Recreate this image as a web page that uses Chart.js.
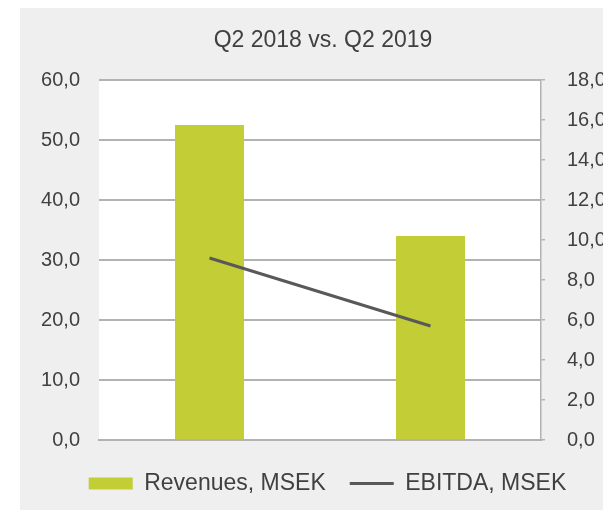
<!DOCTYPE html>
<html><head><meta charset="utf-8">
<script src="https://cdn.jsdelivr.net/npm/chart.js@4/dist/chart.umd.min.js"></script>
<style>
html,body{margin:0;padding:0;background:#fff;overflow:hidden;width:603px;height:510px}
#panel{position:absolute;left:20px;top:8px;right:0;bottom:0;background:#efefef}
#c{position:absolute;left:0;top:0}
</style></head><body>
<div id="panel"></div>
<canvas id="c" width="615" height="510"></canvas>
<script>
// ---- data ----
const categories = ['Q2 2018', 'Q2 2019'];
const revenues = [52.5, 34.0];      // MSEK, left axis
const ebitda = [9.1, 5.7];          // MSEK, right axis
const leftAxis = { min: 0, max: 60, step: 10 };
const rightAxis = { min: 0, max: 18, step: 2 };
const titleText = 'Q2 2018 vs. Q2 2019';
const seriesNames = ['Revenues, MSEK', 'EBITDA, MSEK'];

const FONT = "'Liberation Sans', Arial, sans-serif";
const TEXT = '#404040';
const GRID = '#b2b2b2';
const fmt = v => Number(v).toFixed(1).replace('.', ',');

const areaBg = {
  id: 'areaBg',
  afterLayout(chart) {
    if (chart.legend) { chart.legend.left += 20; chart.legend.right += 20; }
    if (chart.titleBlock) { chart.titleBlock.left += 3; chart.titleBlock.right += 3; }
  },
  beforeDraw(chart) {
    const a = chart.chartArea, ctx = chart.ctx;
    ctx.save(); ctx.fillStyle = '#ffffff';
    ctx.fillRect(a.left, a.top, a.right - a.left, a.bottom - a.top);
    ctx.restore();
  }
};

new Chart(document.getElementById('c'), {
  data: {
    labels: categories,
    datasets: [
      { type: 'bar', label: seriesNames[0], data: revenues, yAxisID: 'y',
        backgroundColor: '#c3cd35', borderWidth: 0, order: 1,
        barPercentage: 0.312, categoryPercentage: 1 },
      { type: 'line', label: seriesNames[1], data: ebitda, yAxisID: 'y1',
        borderColor: '#595959', backgroundColor: '#595959', borderWidth: 3,
        pointRadius: 0, tension: 0, order: 0 }
    ]
  },
  options: {
    responsive: false, animation: false,
    layout: { padding: { left: 0, right: 0, top: 0, bottom: 5 } },
    plugins: {
      tooltip: { enabled: false },
      title: { display: true, text: titleText, fullSize: false, color: TEXT,
        font: { family: FONT, size: 23, weight: 'normal' },
        padding: { top: 26.4, bottom: 26 } },
      legend: {
        position: 'bottom', fullSize: true,
        labels: {
          color: TEXT, font: { family: FONT, size: 23 },
          usePointStyle: true, pointStyleWidth: 44, boxWidth: 44, boxHeight: 12, padding: 24,
          sort: (a, b) => a.datasetIndex - b.datasetIndex,
          generateLabels(chart) {
            const items = Chart.defaults.plugins.legend.labels.generateLabels(chart);
            items.forEach(it => {
              if (it.datasetIndex === 0) { it.pointStyle = 'rect'; it.lineWidth = 0; it.fillStyle = '#c3cd35'; it.strokeStyle = '#c3cd35'; }
              else { it.pointStyle = 'line'; it.lineWidth = 3; it.strokeStyle = '#595959'; it.fillStyle = '#595959'; }
              it.fontColor = TEXT;
            });
            return items;
          }
        }
      }
    },
    scales: {
      x: { type: 'category', offset: true,
        ticks: { display: false },
        grid: { display: false, drawTicks: false },
        border: { display: true, color: GRID, width: 2 },
        afterFit(s) { s.height = 8; } },
      y: { type: 'linear', position: 'left', min: leftAxis.min, max: leftAxis.max,
        ticks: { stepSize: leftAxis.step, color: TEXT, padding: 19,
          font: { family: FONT, size: 20 }, callback: v => fmt(v) },
        grid: { color: GRID, lineWidth: 2, drawTicks: false },
        border: { display: false },
        afterFit(s) { s.width = 99; } },
      y1: { type: 'linear', position: 'right', min: rightAxis.min, max: rightAxis.max,
        ticks: { stepSize: rightAxis.step, color: TEXT, padding: 22,
          font: { family: FONT, size: 20 }, callback: v => fmt(v) },
        grid: { drawOnChartArea: false, drawTicks: true, tickLength: 4, color: GRID, lineWidth: 1.5 },
        border: { display: true, color: GRID, width: 1.5 },
        afterFit(s) { s.width = 74; } }
    }
  },
  plugins: [areaBg]
});
</script>
</body></html>
